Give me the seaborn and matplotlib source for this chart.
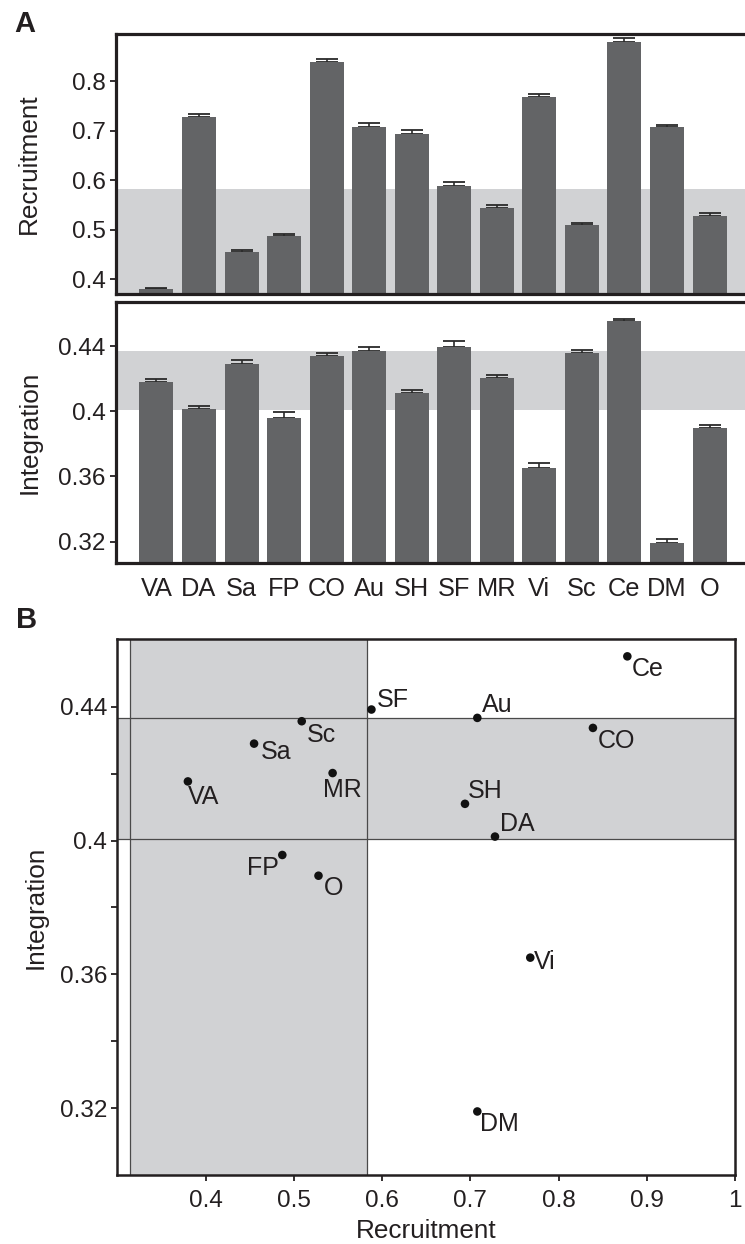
import matplotlib
matplotlib.use("Agg")
import matplotlib.pyplot as plt
import seaborn as sns
import pandas as pd
import numpy as np
from matplotlib.ticker import FixedLocator, FuncFormatter

# ---------------- data ----------------
categories = ["VA", "DA", "Sa", "FP", "CO", "Au", "SH", "SF", "MR", "Vi", "Sc", "Ce", "DM", "O"]
recruitment = [0.380, 0.728, 0.455, 0.487, 0.839, 0.708, 0.694, 0.588, 0.544, 0.768, 0.509, 0.878, 0.708, 0.528]
recruitment_err = [0.003, 0.005, 0.004, 0.0035, 0.006, 0.0074, 0.0067, 0.0074, 0.0067, 0.0054, 0.0047, 0.0088, 0.004, 0.0054]
integration = [0.4177, 0.4012, 0.4290, 0.3957, 0.4337, 0.4367, 0.4110, 0.4392, 0.4202, 0.3650, 0.4357, 0.4551, 0.3190, 0.3895]
integration_err = [0.0020, 0.0020, 0.0025, 0.0039, 0.0020, 0.0027, 0.0022, 0.0037, 0.0018, 0.0033, 0.0018, 0.0016, 0.0025, 0.0022]
recruitment_band = [0.314, 0.583]
integration_band = [0.4006, 0.4368]

df = pd.DataFrame({"cat": categories, "rec": recruitment, "rec_err": recruitment_err,
                   "int": integration, "int_err": integration_err})

# ---------------- style ----------------
sns.set_style("white")
plt.rcParams["font.family"] = ["Liberation Sans", "DejaVu Sans"]

BAR = "#636466"
BAND = "#d1d2d4"
DARK = "#231f20"
W, H = 745, 1244
fig = plt.figure(figsize=(W / 100, H / 100), dpi=100)

def frac_rect(left, top, right, bottom):
    return [left / W, 1 - bottom / H, (right - left) / W, (bottom - top) / H]

ax1 = fig.add_axes(frac_rect(116, 34, 750, 294.2))
ax2 = fig.add_axes(frac_rect(116, 302, 750, 563.2))
ax3 = fig.add_axes(frac_rect(117.3, 639.3, 735, 1175))

TICK_FS = 17.5
LABEL_FS = 18.8

def bar_panel(ax, col, errcol, ylim, band, ticks, fmt, label, show_x):
    ax.axhspan(band[0], band[1], color=BAND, lw=0, zorder=0)
    sns.barplot(data=df, x="cat", y=col, ax=ax, color=BAR, width=0.8,
                errorbar=None, saturation=1, zorder=3, edgecolor="none")
    xs = np.arange(len(df))
    ax.errorbar(xs, df[col], yerr=[np.zeros(len(df)), df[errcol]], fmt="none",
                ecolor="#2a2a2a", elinewidth=1.2, capsize=8, capthick=1.3, zorder=2)
    ax.set_ylim(*ylim)
    ax.set_xlim(-0.95, len(df) - 0.05)
    ax.yaxis.set_major_locator(FixedLocator(ticks))
    ax.yaxis.set_major_formatter(FuncFormatter(fmt))
    ax.tick_params(axis="y", length=4.5, width=1.3, pad=3, labelsize=TICK_FS, colors=DARK, left=True)
    ax.tick_params(axis="x", length=0, pad=10, labelsize=18.3, colors=DARK)
    ax.set_xlabel("")
    ax.set_ylabel(label, fontsize=LABEL_FS, color=DARK)
    ax.yaxis.set_label_coords(-0.118, 0.5)
    if not show_x:
        ax.set_xticklabels([])
    for s in ax.spines.values():
        s.set_linewidth(2.3)
        s.set_color(DARK)
        s.set_zorder(5)

def fmt_g(v, pos):
    s = f"{v:.2f}".rstrip("0").rstrip(".")
    return s

bar_panel(ax1, "rec", "rec_err", (0.370, 0.895), [-1.0, recruitment_band[1]],
          [0.4, 0.5, 0.6, 0.7, 0.8], fmt_g, "Recruitment", False)
bar_panel(ax2, "int", "int_err", (0.3068, 0.467), integration_band,
          [0.32, 0.36, 0.40, 0.44], fmt_g, "Integration", True)

# ---------------- scatter ----------------
ax3.axvspan(recruitment_band[0], recruitment_band[1], color=BAND, lw=0, zorder=0)
ax3.axhspan(integration_band[0], integration_band[1], color=BAND, lw=0, zorder=0)
for v in recruitment_band:
    ax3.axvline(v, color="#4a4a4a", lw=0.9, zorder=1)
for v in integration_band:
    ax3.axhline(v, color="#4a4a4a", lw=0.9, zorder=1)
sns.scatterplot(data=df, x="rec", y="int", ax=ax3, color="#111111", s=38,
                edgecolor="none", zorder=4)

label_offsets = {
    "Ce": (4, -13, "left"), "SF": (5, 10, "left"), "Au": (5, 13, "left"),
    "Sc": (5, -14, "left"), "Sa": (7, -8, "left"), "CO": (5, -13, "left"),
    "VA": (0, -16, "left"), "MR": (-10, -17, "left"), "SH": (3, 13, "left"),
    "DA": (5, 13, "left"), "FP": (-3, -13, "right"), "O": (5, -12, "left"),
    "Vi": (4, -4, "left"), "DM": (3, -13, "left"),
}
for c, x, y in zip(df["cat"], df["rec"], df["int"]):
    dx, dy, ha = label_offsets[c]
    ax3.annotate(c, (x, y), xytext=(dx, dy), textcoords="offset pixels",
                 ha=ha, va="center", fontsize=18, color=DARK, zorder=6)

ax3.set_xlim(0.30, 1.0)
ax3.set_ylim(0.300, 0.4602)
ax3.xaxis.set_major_locator(FixedLocator([0.4, 0.5, 0.6, 0.7, 0.8, 0.9, 1.0]))
ax3.xaxis.set_major_formatter(FuncFormatter(fmt_g))
ax3.yaxis.set_major_locator(FixedLocator([0.32, 0.36, 0.40, 0.44]))
ax3.yaxis.set_minor_locator(FixedLocator([0.34, 0.38, 0.42]))
ax3.yaxis.set_major_formatter(FuncFormatter(fmt_g))
ax3.tick_params(axis="both", which="both", length=4.5, width=1.3, colors=DARK,
                labelsize=TICK_FS, bottom=True, left=True)
ax3.tick_params(axis="y", pad=3)
ax3.tick_params(axis="x", pad=6)
ax3.set_xlabel("Recruitment", fontsize=LABEL_FS, color=DARK)
ax3.set_ylabel("Integration", fontsize=LABEL_FS, color=DARK)
ax3.xaxis.set_label_coords(0.5, -0.083)
ax3.yaxis.set_label_coords(-0.113, 0.5)
for s in ax3.spines.values():
    s.set_linewidth(1.8)
    s.set_color(DARK)
    s.set_zorder(5)

fig.text(14 / W, 1 - 32 / H, "A", fontsize=21, fontweight="bold", color=DARK, va="baseline")
fig.text(16 / W, 1 - 628 / H, "B", fontsize=21, fontweight="bold", color=DARK, va="baseline")

fig.savefig("out.png", dpi=100)
